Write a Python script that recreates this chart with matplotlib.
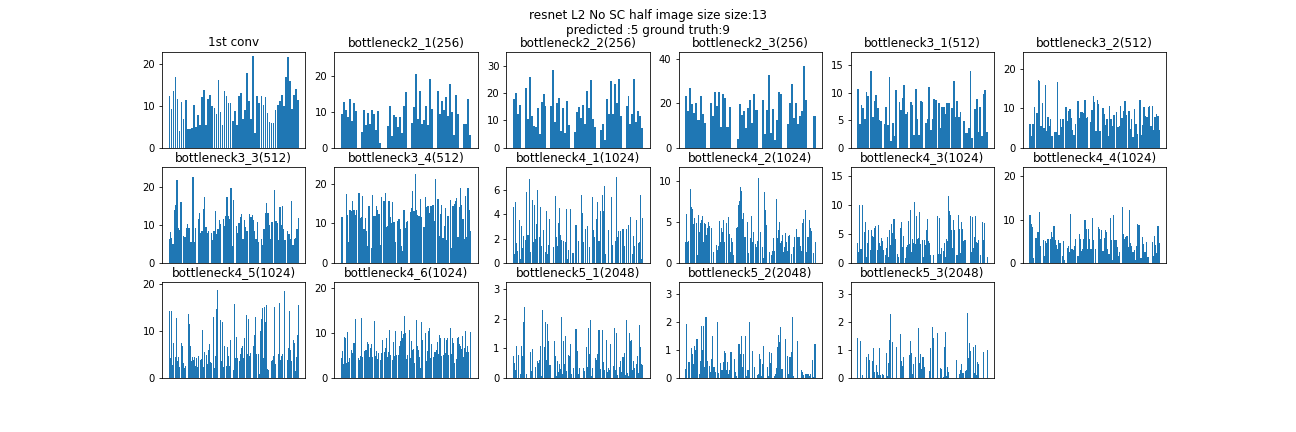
import matplotlib
matplotlib.use('Agg')
import matplotlib.pyplot as plt

# per-layer activation heights (one value per visible bar column)
titles = ['1st conv', 'bottleneck2_1(256)', 'bottleneck2_2(256)', 'bottleneck2_3(256)',
          'bottleneck3_1(512)', 'bottleneck3_2(512)', 'bottleneck3_3(512)', 'bottleneck3_4(512)',
          'bottleneck4_1(1024)', 'bottleneck4_2(1024)', 'bottleneck4_3(1024)', 'bottleneck4_4(1024)',
          'bottleneck4_5(1024)', 'bottleneck4_6(1024)', 'bottleneck5_1(2048)', 'bottleneck5_2(2048)',
          'bottleneck5_3(2048)']

# upper y limits seen in each panel
y_tops = [23.0, 26.9, 35.1, 43.2, 17.4, 24.3, 25.3, 24.3, 7.89, 11.7, 16.55, 22.15,
          20.4, 21.3, 3.25, 3.44, 3.43]

conv1 = [12.4, 9.3, 13.6, 17.0, 11.7, 4.1, 11.0, 6.8, 11.5, 4.4, 4.5, 4.8, 10.3, 4.9, 7.9, 5.5,
         12.2, 13.8, 5.4, 11.7, 12.6, 10.0, 9.6, 8.0, 16.2, 8.6, 5.5, 13.5, 12.4, 10.8, 10.7, 6.4,
         8.8, 5.5, 12.4, 13.2, 6.8, 9.1, 17.9, 11.3, 7.0, 22.0, 3.6, 12.3, 10.7, 12.4, 10.3, 12.2,
         8.3, 6.2, 6.0, 6.0, 9.1, 10.3, 11.2, 12.6, 10.0, 17.0, 21.7, 16.0, 9.4, 12.6, 14.1, 11.5]

b2_1 = [9.5, 12.7, 10.5, 8.5, 13.8, 7.5, 12.6, 10.3, 0, 0,
        4.5, 10.5, 6.5, 9.7, 6.8, 10.5, 9.5, 5.0, 10.3, 1.2, 0, 0, 0,
        6.0, 11.6, 3.2, 9.3, 8.5, 5.8, 8.5, 4.1, 11.6, 15.5, 0, 0,
        7.0, 11.4, 20.7, 8.0, 16.0, 6.6, 7.8, 11.6, 6.3, 19.3, 11.0, 0, 0,
        15.8, 9.5, 13.1, 10.5, 14.3, 8.8, 17.9, 10.1, 3.6, 14.8, 9.6, 0, 0,
        6.8, 6.8, 13.6, 3.5]

b2_2 = [18.0, 20.1, 12.5, 15.7, 0, 0,
        22.0, 10.5, 26.0, 11.7, 8.0, 7.5, 14.5, 5.2, 16.8, 19.8, 15.3, 0, 0,
        15.3, 28.6, 9.5, 16.4, 18.3, 6.0, 14.7, 5.5, 17.2, 8.5, 0, 0,
        5.8, 13.0, 14.8, 10.8, 15.5, 8.7, 20.7, 14.7, 24.8, 10.5, 7.5, 0, 0,
        6.4, 8.7, 3.0, 17.7, 12.4, 24.5, 12.3, 23.5, 16.2, 25.2, 11.5, 0, 0,
        15.3, 18.8, 8.7, 12.2, 25.3, 9.5, 13.3, 11.5, 7.3]

b2_3 = [23.2, 16.5, 27.0, 19.5, 15.5, 20.2, 12.3, 23.5, 15.0, 11.0, 0, 0,
        20.2, 14.5, 25.2, 19.0, 25.0, 9.5, 24.0, 22.3, 9.5, 18.2, 0, 0, 0,
        4.0, 19.7, 14.8, 16.6, 9.0, 17.7, 21.6, 11.3, 24.0, 17.0, 0, 0,
        21.3, 6.0, 16.8, 32.8, 6.5, 17.4, 3.5, 12.5, 25.2, 24.0, 0, 0,
        10.5, 20.2, 28.5, 13.5, 20.3, 10.7, 14.5, 16.5, 36.7, 21.5, 0, 0, 0,
        14.5]

b3_1 = [10.7, 4.3, 7.8, 7.2, 5.3, 10.2, 9.3, 0, 14.0, 5.5, 8.4, 9.6, 7.3, 5.1, 4.8, 0,
        4.3, 7.4, 4.1, 12.9, 1.3, 4.5, 2.1, 10.4, 0, 8.3, 6.8, 9.0, 11.3, 6.2, 6.5, 0,
        8.3, 7.8, 2.4, 10.7, 5.2, 2.3, 8.5, 8.3, 0, 4.5, 5.2, 11.0, 3.3, 5.3, 8.9, 8.7, 0,
        8.1, 3.6, 7.4, 7.4, 6.2, 8.2, 8.2, 0, 7.2, 12.2, 5.6, 8.5, 5.5, 6.5, 0,
        4.8, 2.7, 2.7, 3.5, 14.0, 1.7, 0, 7.1, 8.9, 2.8, 7.4, 2.2, 9.8, 10.4, 2.8]

b3_2 = [6.1, 3.1, 5.9, 10.3, 0, 8.9, 17.2, 17.0, 5.6, 11.4, 5.0, 16.0, 4.3, 7.8, 5.6, 7.3, 3.1, 0,
        3.9, 3.9, 16.7, 3.3, 7.2, 5.3, 7.3, 0, 10.3, 6.7, 9.3, 9.7, 7.6, 4.5, 3.3, 6.0, 0,
        11.9, 7.6, 9.1, 9.1, 8.7, 12.0, 7.6, 7.8, 0, 6.5, 9.5, 13.1, 11.6, 4.3, 12.1, 11.2, 4.3, 0,
        10.0, 8.6, 5.7, 7.3, 3.0, 10.7, 7.3, 5.5, 8.3, 0, 9.0, 5.2, 5.5, 10.6, 7.5, 9.3, 11.8, 8.2, 0,
        9.2, 4.7, 7.3, 2.7, 9.9, 5.9, 3.6, 0, 12.1, 3.2, 5.7, 10.4, 8.0, 7.8, 10.4, 10.7, 5.4,
        10.7, 4.5, 7.8, 8.5, 8.0, 4.5]

b3_3 = [6.3, 8.1, 6.6, 5.0, 14.0, 15.2, 21.9, 9.3, 8.8, 16.1, 0,
        7.1, 6.9, 9.2, 10.3, 9.3, 5.6, 5.6, 22.7, 5.6, 9.2, 0,
        11.6, 13.1, 8.0, 8.3, 14.2, 17.5, 9.4, 8.0, 8.3, 0,
        7.8, 6.0, 8.4, 13.7, 7.6, 8.9, 11.4, 10.2, 0,
        11.6, 9.8, 12.4, 17.5, 12.4, 11.5, 19.7, 4.5, 16.7, 0,
        9.8, 8.0, 10.6, 12.1, 12.8, 6.3, 11.2, 9.4, 8.3, 0,
        12.9, 12.2, 12.6, 11.4, 8.3, 6.2, 10.7, 5.6, 0,
        6.3, 4.8, 9.0, 13.1, 15.8, 13.1, 9.9, 6.2, 10.8, 0,
        19.3, 11.1, 10.6, 6.0, 14.8, 10.0, 15.0, 9.0, 6.0, 0,
        8.5, 7.6, 6.3, 16.4, 4.6, 6.3, 6.6, 8.9, 11.8]

b3_4 = [11.5, 11.7, 0, 0, 17.5, 12.1, 5.2, 13.3, 13.2, 15.6, 13.4, 12.2, 13.5, 0,
        17.7, 11.4, 11.5, 17.0, 8.5, 11.3, 8.1, 4.3, 14.3, 0,
        3.8, 17.1, 11.8, 12.0, 14.3, 13.3, 12.5, 4.6, 16.6, 0,
        15.7, 17.7, 9.0, 9.3, 15.8, 11.7, 10.2, 15.3, 10.4, 5.4, 0,
        10.7, 11.0, 8.6, 4.4, 3.0, 13.3, 8.8, 10.4, 10.6, 0,
        12.8, 13.9, 18.3, 13.2, 22.4, 13.5, 12.2, 12.0, 16.1, 11.6, 0,
        9.0, 16.8, 14.2, 14.3, 12.6, 14.4, 14.4, 14.6, 10.6, 21.3, 0,
        16.3, 6.7, 12.4, 14.6, 6.2, 9.3, 14.0, 5.7, 12.0, 0,
        16.0, 3.8, 14.5, 14.8, 15.7, 16.5, 6.5, 14.2, 18.9, 14.7, 11.2, 6.0, 17.0, 6.5,
        18.9, 13.4, 8.0]

b4_1 = [4.6, 0.7, 5.0, 1.6, 1.0, 0, 3.5, 0.3, 3.0, 1.2, 2.2, 0, 1.9, 5.8, 2.3, 6.9, 0.9, 0,
        5.2, 1.7, 4.8, 2.0, 3.2, 6.0, 0, 2.1, 4.6, 1.4, 0, 2.7, 0, 0.9, 4.3, 0.7, 1.5, 3.6, 0,
        0, 1.3, 0, 5.5, 2.1, 1.4, 3.3, 4.5, 2.3, 1.9, 0, 1.8, 0, 1.7, 4.4, 0.3, 1.1, 0, 4.4, 0,
        0.8, 0.8, 0, 3.1, 0, 1.8, 0, 0, 5.6, 4.1, 1.7, 0, 2.8, 0, 3.0, 0, 1.3, 0, 0, 5.4, 2.7,
        2.1, 0, 3.6, 5.0, 1.8, 4.3, 0, 5.6, 4.3, 6.3, 0.7, 0, 0, 2.7, 0, 0, 5.4, 1.5, 0, 0,
        1.8, 7.1, 2.1, 2.6, 0, 2.6, 0, 2.8, 1.4, 0, 2.8, 0, 3.1, 0, 3.8, 0, 0.7, 2.2, 1.4, 0,
        3.5, 0, 1.6, 1.7, 5.6, 0.3, 3.7]

b4_2 = [2.6, 6.0, 2.6, 2.7, 0, 9.0, 6.8, 6.6, 4.7, 5.5, 0, 4.9, 1.0, 5.8, 3.8, 4.9, 5.2, 5.7,
        2.5, 4.9, 4.8, 3.4, 4.3, 5.0, 4.5, 0, 4.2, 0, 1.3, 0, 0, 2.2, 1.6, 2.0, 5.1, 2.6, 4.3,
        3.8, 5.2, 2.6, 0, 4.9, 0, 5.6, 3.5, 1.3, 3.0, 2.5, 1.0, 0, 0, 4.3, 4.4, 7.1, 7.6, 9.3,
        8.8, 5.3, 6.1, 3.1, 3.1, 0, 5.0, 1.2, 0, 3.0, 5.7, 2.6, 3.8, 0, 2.3, 1.9, 2.7, 10.3, 0,
        3.8, 0, 1.9, 0.6, 8.7, 6.4, 4.6, 0, 0, 1.3, 0, 1.0, 1.4, 3.0, 1.5, 0, 7.8, 3.0, 4.0,
        5.0, 2.4, 2.7, 3.4, 1.3, 1.9, 3.7, 2.5, 1.5, 3.3, 3.4, 0, 1.1, 0, 1.9, 3.1, 0, 4.1,
        3.2, 3.1, 3.1, 2.1, 1.5, 4.9, 5.4, 0, 6.5, 1.3, 3.1, 3.2, 5.2, 4.2, 3.9, 0, 1.2, 0, 2.5]

b4_3 = [3.5, 1.9, 10.0, 2.4, 2.4, 10.0, 0, 5.4, 7.1, 1.0, 3.4, 5.6, 0, 2.2, 5.6, 4.6, 4.4,
        6.1, 3.5, 6.3, 0, 2.2, 6.5, 3.4, 2.9, 4.3, 3.7, 2.2, 0, 1.4, 2.6, 4.5, 1.1, 5.7, 3.1,
        6.7, 5.2, 7.5, 7.6, 4.1, 0, 1.6, 2.2, 1.0, 0, 6.0, 7.1, 2.7, 4.6, 0, 0.8, 2.8, 3.1,
        7.3, 3.3, 9.2, 1.9, 4.2, 3.4, 10.5, 3.2, 8.1, 4.1, 4.3, 8.7, 3.3, 0, 3.0, 4.0, 1.0,
        4.0, 3.0, 5.7, 7.6, 3.8, 3.4, 1.3, 0, 0, 1.3, 0, 0, 0, 8.1, 1.6, 7.8, 1.5, 2.5, 0,
        2.0, 3.5, 8.9, 1.1, 4.2, 3.8, 11.5, 9.0, 8.3, 5.7, 2.6, 7.4, 5.7, 0, 1.3, 1.3, 8.3,
        5.8, 1.7, 7.0, 5.8, 3.8, 3.9, 3.9, 0, 0, 0, 1.8, 0, 8.1, 1.8, 7.9, 2.5, 4.5, 8.1,
        3.6, 3.5, 4.0, 0, 1.3, 0, 7.1, 3.9, 6.9, 0, 0, 1.1]

b4_4 = [11.1, 9.0, 8.3, 1.2, 0, 5.8, 7.2, 7.2, 11.8, 3.8, 0, 5.2, 1.7, 5.0, 4.6, 5.5, 0,
        5.5, 7.2, 5.9, 8.5, 5.2, 4.1, 3.3, 5.3, 4.5, 0, 1.6, 5.0, 0.7, 0, 3.4, 4.0, 2.5,
        11.3, 3.3, 3.0, 4.0, 5.6, 0, 1.5, 6.6, 5.6, 2.8, 3.2, 5.6, 9.9, 7.8, 3.3, 7.8, 5.5,
        3.2, 10.4, 5.3, 0, 3.3, 0, 8.4, 7.8, 5.5, 7.6, 2.8, 5.7, 7.5, 7.2, 3.2, 2.0, 10.4,
        5.2, 0.7, 11.0, 5.2, 5.2, 3.7, 1.6, 2.5, 0, 13.0, 6.6, 5.6, 5.9, 6.1, 3.6, 12.1,
        4.5, 4.0, 2.6, 2.9, 0.7, 3.9, 8.9, 8.7, 1.2, 1.2, 6.0, 4.3, 2.4, 4.9, 1.3, 1.3, 0,
        0, 4.8, 1.5, 6.3, 4.1, 2.3, 8.6, 4.5]

b4_5 = [14.3, 4.3, 14.3, 2.8, 7.5, 0, 0, 4.5, 12.8, 3.6, 4.5, 2.3, 0, 7.5, 6.9, 3.2, 2.2,
        2.6, 0, 0, 13.6, 11.5, 6.8, 3.6, 4.5, 3.9, 4.5, 2.6, 4.2, 2.4, 4.7, 0, 3.8, 4.0,
        10.3, 2.4, 5.6, 0, 4.8, 3.0, 6.0, 7.2, 3.5, 3.2, 0, 13.0, 2.2, 4.6, 14.7, 18.7, 0,
        0, 12.4, 3.6, 12.0, 2.4, 6.8, 0, 2.6, 6.5, 4.6, 2.6, 8.1, 0, 0, 1.8, 15.7, 4.2, 8.7,
        4.3, 0, 3.6, 5.2, 6.3, 6.8, 4.3, 8.5, 0, 13.4, 5.2, 12.6, 4.6, 5.3, 0, 0, 6.8, 9.2,
        13.0, 5.0, 0, 5.1, 0.8, 10.0, 12.6, 14.9, 4.2, 15.1, 12.0, 15.6, 2.0, 1.6, 0, 0,
        3.7, 3.8, 4.6, 15.2, 3.0, 0, 0, 5.1, 16.0, 3.9, 4.7, 5.1, 0, 18.5, 0, 0, 3.8, 6.4,
        14.3, 6.0, 3.6, 0, 8.1, 7.4, 1.5, 4.4, 9.2, 15.5]

b4_6 = [4.5, 6.0, 3.2, 9.2, 8.8, 3.3, 10.3, 3.6, 4.4, 0, 6.3, 5.6, 7.7, 7.8, 13.1, 0, 0,
        4.5, 4.0, 4.9, 13.3, 4.7, 0, 6.0, 6.3, 6.2, 8.0, 7.6, 4.7, 6.6, 7.5, 4.7, 0, 12.7,
        4.9, 6.0, 4.3, 5.5, 0, 3.9, 5.6, 8.5, 0, 5.8, 6.7, 8.8, 4.6, 5.8, 3.9, 10.6, 5.0, 0,
        4.0, 7.9, 4.8, 10.4, 5.1, 0, 5.0, 7.2, 8.3, 10.5, 8.8, 9.7, 13.8, 10.0, 4.2, 5.1, 0,
        10.6, 4.5, 8.2, 6.3, 6.5, 3.4, 0, 12.9, 7.2, 6.3, 4.7, 2.2, 12.4, 8.5, 0, 0, 9.9,
        3.7, 6.0, 10.5, 11.1, 4.4, 7.6, 0, 4.6, 5.8, 5.7, 6.2, 8.0, 5.4, 9.6, 8.9, 4.8, 0,
        5.2, 8.8, 5.5, 8.4, 8.8, 5.0, 0, 11.1, 5.3, 8.8, 7.8, 3.4, 0, 4.3, 8.9, 9.2, 7.6,
        7.0, 6.4, 9.4, 4.7, 6.7, 10.5, 5.8, 7.1, 5.8, 0, 10.3]

b5_1 = [0.73, 0.52, 0.28, 1.07, 0, 0.77, 0, 0.12, 1.07, 0.73, 1.89, 2.42, 0, 0.12, 0, 0,
        0.87, 0.25, 0.97, 0, 0, 0.36, 0, 0.59, 0.52, 0.62, 1.1, 0.08, 2.32, 0, 1.05, 1.89,
        0.61, 1.82, 1.24, 0.45, 0.45, 0, 0, 1.27, 0.73, 0.08, 0.56, 0.21, 0.48, 0.29, 2.05,
        0.12, 1.27, 0.47, 1.41, 0.23, 0, 0.79, 0.74, 1.16, 0.14, 0, 0.33, 0, 1.65, 0.9, 0.12,
        0.35, 0, 0, 0, 0.35, 0.25, 0, 1.04, 0.36, 1.68, 0.81, 1.98, 0.06, 0.33, 0, 0, 0.67,
        0.6, 0.8, 1.64, 0.3, 0, 1.64, 0.55, 0.27, 0, 1.29, 0.19, 0.33, 0.27, 1.16, 0, 0, 0.4,
        1.68, 0.28, 1.54, 0.11, 0, 0.37, 0.58, 0.2, 0.72, 0.86, 0.09, 1.95, 0.16, 0.07, 1.52,
        1.27, 1.3, 0.26, 0.58, 0.33, 0, 0.46, 0.74, 0.18, 1.78, 1.04, 0.46, 0.43]

b5_2 = [0.34, 1.95, 0, 0.58, 0, 1.08, 0.86, 0.51, 1.16, 1.01, 1.4, 0, 0.14, 0.6, 1.88, 1.0,
        1.88, 0.41, 2.2, 0.62, 0, 0.42, 0.2, 0.69, 1.5, 0.41, 0.21, 0, 2.02, 0.18, 0, 0.55,
        0.29, 0.57, 0.97, 0.9, 0.27, 0.56, 0.16, 0.28, 0.92, 0, 0, 0.68, 0.2, 0.07, 0, 1.23,
        0.85, 1.52, 0.38, 0.86, 0, 1.51, 0.07, 0.3, 2.02, 0, 0, 0.96, 0, 0.41, 0, 0.11, 0.15,
        0.86, 0.68, 0.08, 0.5, 1.15, 0, 0, 0.4, 0.08, 0.93, 0.55, 0.89, 0, 0.06, 0.15, 0.36,
        1.12, 1.55, 1.3, 1.84, 0.33, 0, 0, 1.4, 0, 0.8, 0.13, 0.77, 0.92, 2.2, 0.06, 0, 0, 0,
        1.33, 0, 0, 0.28, 0.22, 0.12, 0, 0.15, 0.15, 0.15, 0.08, 0.13, 0, 0.65, 0.04, 1.22]

b5_3 = [1.43, 0, 0, 1.32, 0, 0.11, 0, 0, 0.76, 0, 0.87, 0.65, 0, 0, 0.62, 1.08, 0.2, 0, 0.47,
        0.23, 0.11, 1.08, 0.11, 0, 0.15, 0.12, 0, 0, 0.9, 0.07, 0.54, 1.36, 2.29, 0, 1.29, 0,
        0, 1.12, 0, 0, 0, 1.57, 0.61, 0.44, 0.76, 0, 0, 0, 0, 0, 0.83, 1.32, 0.89, 0.16, 0.5,
        0, 0.75, 0, 0, 1.79, 0.55, 0.86, 0.33, 0.74, 0.4, 0, 0, 0, 0, 0.25, 1.07, 0, 1.83,
        1.43, 0, 0, 0, 1.61, 0, 0, 0.37, 0.33, 0, 0.05, 1.11, 1.65, 0.08, 0.39, 0.22, 0, 0, 0,
        0, 0, 0, 0.65, 0, 0, 0.15, 0.29, 0.5, 0.19, 0.19, 0, 0.26, 0.29, 2.32, 0.73, 1.26,
        0.95, 0, 0, 1.1, 0.18, 1.19, 0.11, 0.57, 0.5, 0, 0, 0, 0.94, 0, 0, 0, 1.0]

layers = [conv1, b2_1, b2_2, b2_3, b3_1, b3_2, b3_3, b3_4,
          b4_1, b4_2, b4_3, b4_4, b4_5, b4_6, b5_1, b5_2, b5_3]

# the original was saved at 72 dpi, so fonts come out smaller in pixels
fig, axes = plt.subplots(3, 6, figsize=(18, 6), dpi=72)
fig.subplots_adjust(bottom=0.125)
axes = axes.flatten()
fig.suptitle('resnet L2 No SC half image size size:13\npredicted :5 ground truth:9')

for i, (ax, vals) in enumerate(zip(axes, layers)):
    # first conv has few channels, the rest are drawn as packed columns
    w = 0.8 if i == 0 else 1.0
    ax.bar(range(len(vals)), vals, width=w, color='#1f77b4')
    ax.set_ylim(0, y_tops[i])
    ax.set_xticks([])
    ax.set_title(titles[i])

axes[-1].remove()

fig.savefig('out.png', dpi=72)
